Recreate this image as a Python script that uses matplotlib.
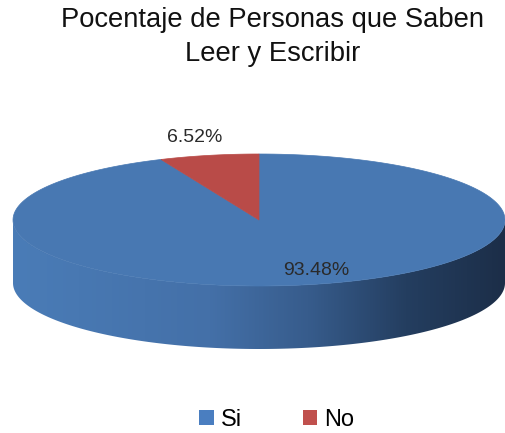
import numpy as np
import matplotlib.pyplot as plt
from matplotlib.patches import Polygon, Patch
from matplotlib.colors import LinearSegmentedColormap

labels = ["Si", "No"]
values = [93.48, 6.52]
colors = ["#4878b2", "#b94b48"]
legend_colors = ["#4a7ec0", "#c0504d"]

W, H, DPI = 506, 433, 100

# ellipse of the pie top, in pixel coords (y down)
cx, cy = 259, 220
rx, ry = 246, 66
depth = 63


def top_pt(deg):
    t = np.radians(deg)
    return cx + rx * np.cos(t), cy - ry * np.sin(t)


fig = plt.figure(figsize=(W / DPI, H / DPI), dpi=DPI)
ax = fig.add_axes([0, 0, 1, 1])
ax.set_xlim(0, W)
ax.set_ylim(H, 0)
ax.axis("off")
plt.rcParams["font.family"] = ["Liberation Sans", "DejaVu Sans"]

# front side of the cylinder, shaded left to right
t = np.linspace(180, 360, 200)
xs, ys = top_pt(t)
side = np.concatenate([np.c_[xs, ys], np.c_[xs[::-1], ys[::-1] + depth]])
side_patch = Polygon(side, closed=True, facecolor="none", edgecolor="none")
ax.add_patch(side_patch)
side_cmap = LinearSegmentedColormap.from_list("side", [
    (0.0, (74 / 255, 124 / 255, 183 / 255)),
    (0.4, (68 / 255, 112 / 255, 168 / 255)),
    (0.6, (55 / 255, 92 / 255, 140 / 255)),
    (0.8, (36 / 255, 62 / 255, 96 / 255)),
    (1.0, (28 / 255, 46 / 255, 72 / 255)),
])
grad = np.linspace(0, 1, 256).reshape(1, -1)
img = ax.imshow(grad, cmap=side_cmap, aspect="auto",
                extent=(cx - rx, cx + rx, cy + ry + depth, cy - ry), zorder=1)
img.set_clip_path(side_patch)

# top face wedges, clockwise from 12 o'clock
total = sum(values)
start = 90.0
mids = []
for val, col in zip(values, colors):
    sweep = 360.0 * val / total
    a = np.linspace(start, start - sweep, 200)
    px, py = top_pt(a)
    pts = np.vstack([[cx, cy], np.c_[px, py]])
    ax.add_patch(Polygon(pts, closed=True, facecolor=col, edgecolor=col,
                         linewidth=0.5, zorder=2))
    mids.append(start - sweep / 2)
    start -= sweep

# data labels
label_fac = [(1.15, 0.78), (1.28, 1.28)]
for val, mid, (fx, fy) in zip(values, mids, label_fac):
    t = np.radians(mid)
    lx = cx + fx * rx * np.cos(t)
    ly = cy - fy * ry * np.sin(t)
    ax.text(lx, ly, f"{val:.2f}%", ha="center", va="center",
            fontsize=14, color="#2a2a2a", zorder=3)

fig.text(273 / W, 1 - 7 / H, "Pocentaje de Personas que Saben\nLeer y Escribir",
         ha="center", va="top", fontsize=19.7, linespacing=1.4, color="#111111")

handles = [Patch(facecolor=c, edgecolor="none") for c in legend_colors]
fig.legend(handles, labels, loc="center", bbox_to_anchor=(277 / W, 1 - 420 / H),
           ncol=2, frameon=False, fontsize=17, handlelength=0.6, handleheight=0.6,
           handletextpad=0.3, columnspacing=2.6)

fig.savefig("out.png", dpi=DPI)
